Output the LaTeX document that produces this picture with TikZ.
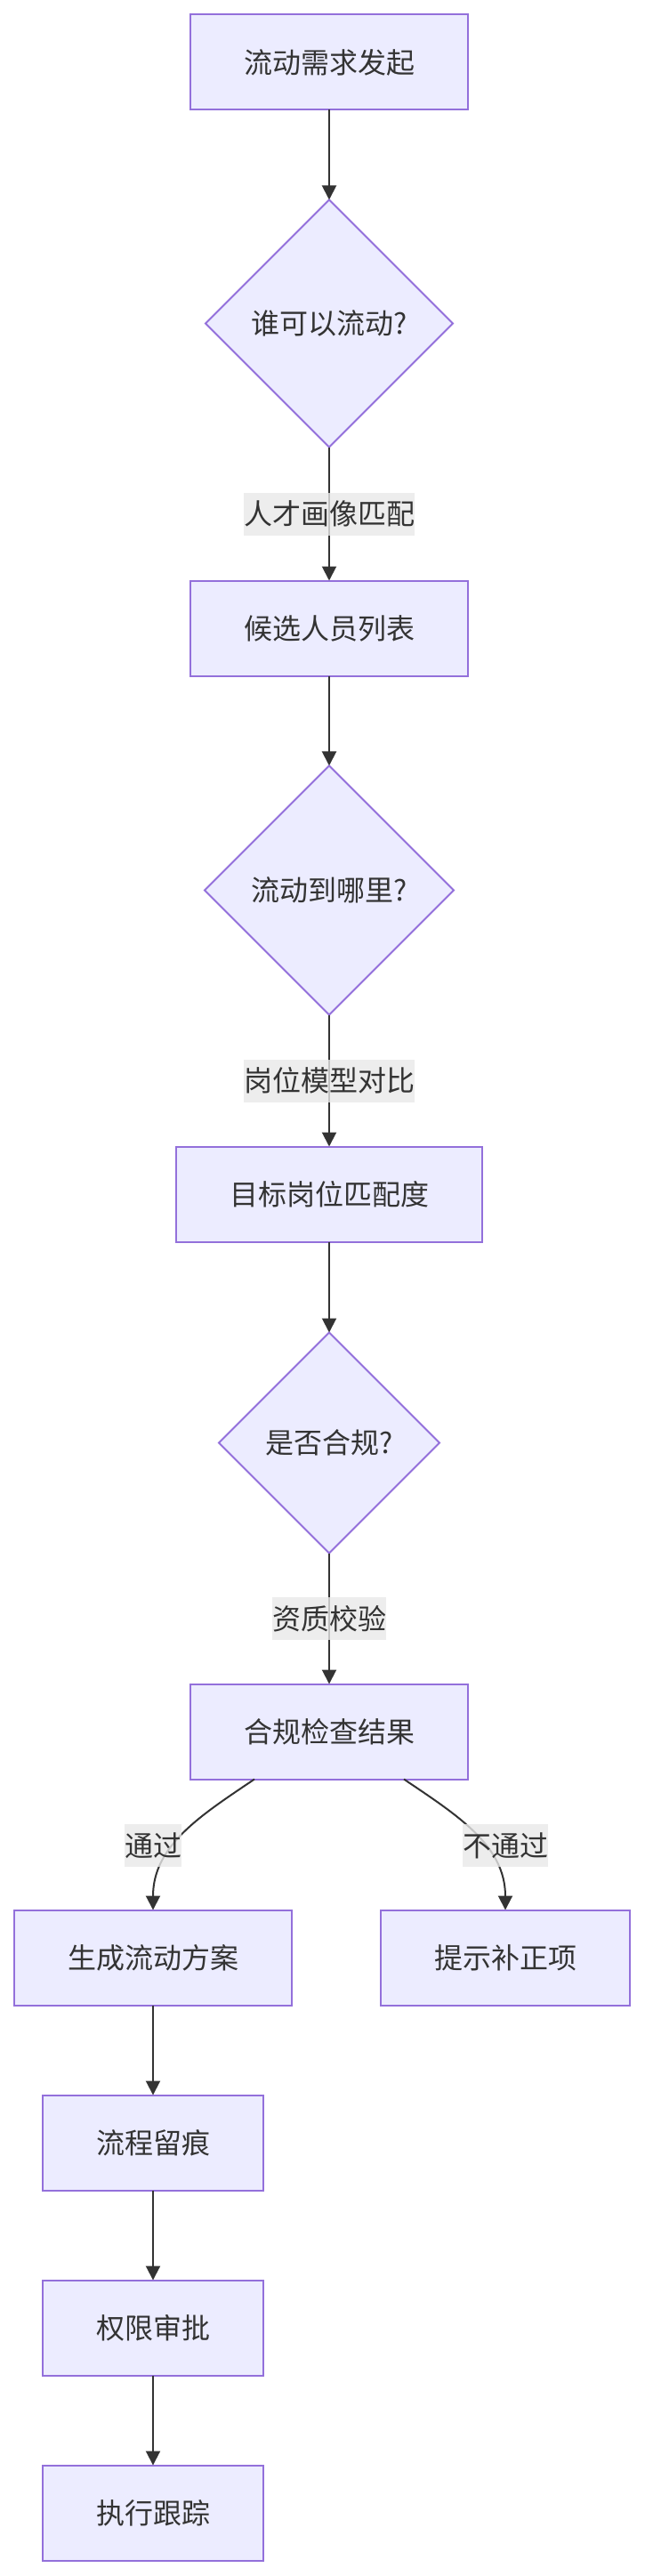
\documentclass[tikz,border=0pt]{standalone}
\usepackage{fontspec}
\setmainfont{Noto Sans CJK SC}
\usepackage{tikz}
\usetikzlibrary{arrows.meta, positioning, shapes.geometric}

\definecolor{nodefill}{HTML}{ECECFF}
\definecolor{nodeline}{HTML}{9370DB}
\definecolor{edgeline}{HTML}{333333}
\definecolor{lblfill}{HTML}{E8E8E8}

\begin{document}
\begin{tikzpicture}[font=\fontsize{16pt}{19pt}\selectfont, text=edgeline,
        box/.style={draw=nodeline, line width=1pt, fill=nodefill, rectangle, minimum height=53.5pt, inner xsep=30pt, outer sep=0pt},
        decision/.style={draw=nodeline, line width=1pt, fill=nodefill, diamond, aspect=1, inner sep=0pt, outer sep=0pt},
        flow/.style={draw=edgeline, line width=1pt, -{Triangle[length=8pt, width=8pt]}},
        lbl/.style={fill=lblfill, fill opacity=0.8, text opacity=1, inner sep=0pt, minimum height=24pt}]
        \useasboundingbox (0,0) rectangle (362pt,-1447.5pt);

        % Demand
        \node (demand) [box] at (185pt,-35pt) {流动需求发起};

        % Who can move
        \node (who) [decision, minimum width=139pt, minimum height=139pt, below=50.5pt of demand] {谁可以流动?};
        \node (candidates) [box, below=75pt of who] {候选人员列表};

        % Where to move
        \node (where) [decision, minimum width=140pt, minimum height=140pt, below=50.5pt of candidates] {流动到哪里?};
        \node (target) [box, below=74pt of where] {目标岗位匹配度};

        % Compliance
        \node (comply) [decision, minimum width=124pt, minimum height=124pt, below=51pt of target] {是否合规?};
        \node (result) [box, below=73.5pt of comply] {合规检查结果};

        % Outcomes
        \node (plan) [box, below=73.5pt of result, xshift=-99pt] {生成流动方案};
        \node (hint) [box, below=73.5pt of result, xshift=99pt] {提示补正项};

        % Follow-up
        \node (trace) [box, below=50.5pt of plan] {流程留痕};
        \node (approve) [box, below=50.5pt of trace] {权限审批};
        \node (track) [box, below=50.5pt of approve] {执行跟踪};

        % Arrows
        \draw[flow] (demand) -- (who);
        \draw[flow] (who) -- node[lbl] {人才画像匹配} (candidates);
        \draw[flow] (candidates) -- (where);
        \draw[flow] (where) -- node[lbl] {岗位模型对比} (target);
        \draw[flow] (target) -- (comply);
        \draw[flow] (comply) -- node[lbl] {资质校验} (result);

        % Branches
        \draw[flow] ([xshift=-42pt]result.south) to[out=-146, in=90] (plan.north);
        \draw[flow] ([xshift=42pt]result.south) to[out=-34, in=90] (hint.north);
        \node (pass) [lbl] at (86pt,-1037pt) {通过};
        \node (fail) [lbl] at (284pt,-1037pt) {不通过};

        \draw[flow] (plan) -- (trace);
        \draw[flow] (trace) -- (approve);
        \draw[flow] (approve) -- (track);
    \end{tikzpicture}
\end{document}
